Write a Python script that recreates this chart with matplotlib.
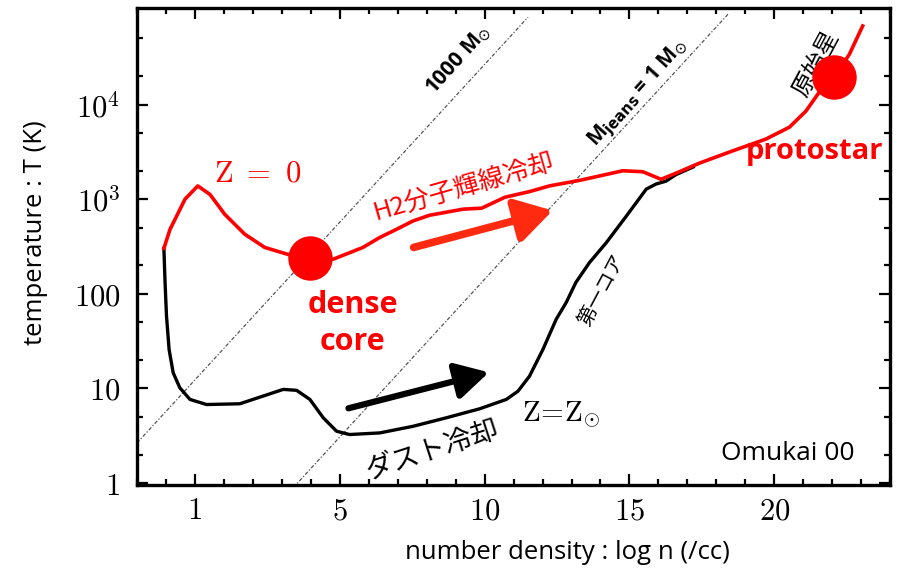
import matplotlib
matplotlib.use("Agg")
import matplotlib.pyplot as plt
from matplotlib.ticker import FixedLocator, MultipleLocator, LogLocator, NullFormatter
import numpy as np

plt.rcParams['mathtext.fontset'] = 'cm'

# thermal evolution tracks: log n [cc^-1] vs log T [K]
zero_n = [-1.07, -0.86, -0.34, 0.10, 0.52, 1.03, 1.72, 2.41, 3.28, 3.97, 4.77, 5.80,
          6.38, 6.95, 7.53, 8.10, 9.25, 9.90, 10.70, 11.55, 12.24, 13.30, 14.77, 15.46,
          16.09, 16.61, 17.41, 18.56, 19.71, 20.52, 21.09, 21.55, 22.07, 22.59, 23.05]
zero_logT = [2.48, 2.68, 3.00, 3.14, 3.05, 2.84, 2.63, 2.49, 2.41, 2.375, 2.365, 2.49,
             2.595, 2.68, 2.77, 2.83, 2.894, 2.905, 3.02, 3.08, 3.14, 3.20, 3.30, 3.29,
             3.21, 3.275, 3.38, 3.51, 3.635, 3.76, 3.93, 4.13, 4.29, 4.53, 4.83]

sol_n = [-1.07, -1.03, -0.98, -0.89, -0.75, -0.52, -0.17, 0.40, 1.55, 2.36, 3.05, 3.51,
         3.97, 4.43, 4.89, 5.34, 6.38, 7.53, 8.68, 9.83, 10.75, 11.15, 11.55, 12.01,
         12.47, 12.82, 13.15, 13.62, 14.20, 14.89, 15.58, 15.92, 16.26, 16.61, 17.2]
sol_logT = [2.48, 2.12, 1.765, 1.41, 1.166, 1.007, 0.884, 0.83, 0.838, 0.92, 0.99, 0.98,
            0.884, 0.69, 0.548, 0.513, 0.53, 0.60, 0.69, 0.785, 0.884, 0.97, 1.13, 1.41,
            1.73, 1.91, 2.12, 2.33, 2.54, 2.82, 3.106, 3.16, 3.19, 3.26, 3.34]

# marked stages on the Z=0 track
stage_n = [3.97, 22.07]
stage_logT = [2.375, 4.29]

# constant Jeans mass lines: log T = log n / 3 + offset
jeans_offset = [1.09, -1.18]
jeans_nrange = [(-2.0, 11.5), (3.4, 18.4)]

fig = plt.figure(figsize=(9.01, 5.79), dpi=100)
ax = fig.add_axes([0.152, 0.1624, 0.836, 0.8238])

for off, (n0, n1) in zip(jeans_offset, jeans_nrange):
    nn = np.array([n0, n1])
    ax.plot(nn, 10 ** (nn / 3 + off), color='#555555', lw=0.9,
            dashes=(3, 1.5, 1, 1.5), zorder=1)

ax.plot(sol_n, 10 ** np.array(sol_logT), color='black', lw=2.4,
        solid_joinstyle='round', zorder=3)
ax.plot(zero_n, 10 ** np.array(zero_logT), color='#ff0000', lw=2.6,
        solid_joinstyle='round', zorder=4)
ax.plot(stage_n, 10 ** np.array(stage_logT), 'o', color='#ff0000', ms=32,
        mec='none', zorder=5)

# arrows showing the direction of collapse
ax.annotate('', xy=(12.35, 10 ** 2.88), xytext=(7.55, 10 ** 2.49),
            arrowprops=dict(arrowstyle='-|>,head_length=1.0,head_width=0.6',
                            color='#ff2a10', lw=5.5, mutation_scale=22,
                            shrinkA=0, shrinkB=0), zorder=6)
ax.annotate('', xy=(10.15, 10 ** 1.17), xytext=(5.3, 10 ** 0.79),
            arrowprops=dict(arrowstyle='-|>,head_length=1.0,head_width=0.55',
                            color='black', lw=4.5, mutation_scale=20,
                            shrinkA=0, shrinkB=0), zorder=6)

jp = ['Noto Sans CJK JP', 'DejaVu Sans']
sans = ['Open Sans', 'DejaVu Sans']

ax.text(2.15, 10 ** 3.28, r'$\mathrm{Z\ =\ 0}$', color='#ff0000', fontsize=22,
        ha='center', va='center')
ax.text(9.3, 10 ** 3.12, 'H2分子輝線冷却', color='#ff0000', fontsize=18.5,
        family=jp, rotation=16, ha='center', va='center')
ax.text(5.45, 10 ** 1.69, 'dense\ncore', color='#ff0000', fontsize=22,
        family=sans, weight='bold', ha='center', va='center', linespacing=1.3)
ax.text(21.4, 10 ** 3.5, 'protostar', color='#ff0000', fontsize=21,
        family=sans, weight='bold', ha='center', va='center')
ax.text(21.45, 10 ** 4.43, '原始星', color='black', fontsize=17, family=jp,
        rotation=62, ha='center', va='center')
ax.text(14.07, 10 ** 2.04, '第一コア', color='black', fontsize=14, family=jp,
        rotation=62, ha='center', va='center')
ax.text(12.65, 10 ** 0.71, r'$\mathrm{Z\!=\!Z}_{\odot}$', color='black', fontsize=21,
        ha='center', va='center')
ax.text(8.2, 10 ** 0.35, 'ダスト冷却', color='black', fontsize=20, family=jp,
        rotation=18, ha='center', va='center')
ax.text(20.45, 10 ** 0.31, 'Omukai 00', color='black', fontsize=19,
        family=sans, ha='center', va='center')
ax.text(9.1, 10 ** 4.47, '1000 M$_{\\odot}$', color='black', fontsize=15,
        family=sans, weight='bold', rotation=48, ha='center', va='center',
        math_fontfamily='dejavusans')
ax.text(15.3, 10 ** 4.12, r'M$_{\mathbf{jeans}}$ = 1 M$_{\odot}$', color='black',
        fontsize=15, family=sans, weight='bold', rotation=48, ha='center',
        va='center', math_fontfamily='dejavusans')

ax.set_xlim(-2, 24)
ax.set_yscale('log')
ax.set_ylim(10 ** -0.02, 10 ** 5.02)

x_ticks = [0, 5, 10, 15, 20]
x_labels = ['$1$', '$5$', '$10$', '$15$', '$20$']
y_ticks = [1, 10, 100, 1e3, 1e4]
y_labels = ['$1$', '$10$', '$100$', '$10^3$', '$10^4$']

ax.xaxis.set_major_locator(FixedLocator(x_ticks))
ax.set_xticklabels(x_labels)
ax.xaxis.set_minor_locator(MultipleLocator(1))
ax.yaxis.set_major_locator(FixedLocator(y_ticks))
ax.set_yticklabels(y_labels)
ax.yaxis.set_minor_locator(LogLocator(base=10, subs=[2, 5], numticks=20))
ax.yaxis.set_minor_formatter(NullFormatter())

ax.tick_params(which='both', direction='in', top=True, right=True, width=1.6)
ax.tick_params(which='major', length=8, labelsize=22)
ax.tick_params(which='minor', length=4.5)
ax.tick_params(axis='x', which='major', pad=8)
ax.tick_params(axis='y', which='major', pad=12)
for sp in ax.spines.values():
    sp.set_linewidth(2.4)

ax.set_xlabel('number density : log n (/cc)', fontsize=18.5, family=sans)
ax.set_ylabel('temperature : T (K)', fontsize=18.5, family=sans)
ax.xaxis.set_label_coords(0.571, -0.115)
ax.yaxis.set_label_coords(-0.118, 0.528)

fig.savefig('out.png', dpi=100)
